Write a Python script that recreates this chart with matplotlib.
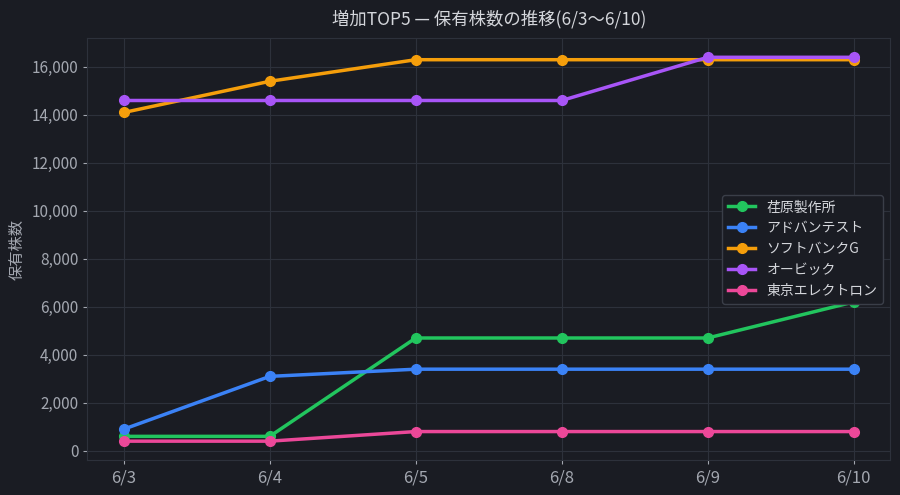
import matplotlib
matplotlib.use("Agg")
import matplotlib.pyplot as plt
from matplotlib.ticker import FuncFormatter

plt.rcParams['font.family'] = ['Noto Sans CJK JP', 'DejaVu Sans']

dates = ["6/3", "6/4", "6/5", "6/8", "6/9", "6/10"]
names = ["荏原製作所", "アドバンテスト", "ソフトバンクG", "オービック", "東京エレクトロン"]
ebara = [600, 600, 4700, 4700, 4700, 6200]
advantest = [900, 3100, 3400, 3400, 3400, 3400]
softbank = [14100, 15400, 16300, 16300, 16300, 16300]
obic = [14600, 14600, 14600, 14600, 16400, 16400]
tel = [400, 400, 800, 800, 800, 800]
series = [ebara, advantest, softbank, obic, tel]
colors = ["#22c55e", "#3b82f6", "#f59e0b", "#a855f7", "#ec4899"]

bg = "#1a1c23"
fg = "#a3a7b0"

fig, ax = plt.subplots(figsize=(9, 4.95), dpi=100)
fig.patch.set_facecolor(bg)
ax.set_facecolor(bg)

x = range(len(dates))
for name, vals, c in zip(names, series, colors):
    ax.plot(x, vals, color=c, linewidth=2.5, marker="o", markersize=7, label=name)

ax.set_xticks(list(x))
ax.set_xticklabels(dates)
ax.yaxis.set_major_formatter(FuncFormatter(lambda v, p: f"{int(v):,}"))
ax.grid(True, color="#2d313b", linewidth=0.8)
ax.set_axisbelow(True)
for s in ax.spines.values():
    s.set_color("#2d313b")
ax.tick_params(colors=fg, labelsize=11, length=3)
ax.tick_params(axis="x", labelsize=12)
ax.set_ylabel("保有株数", color=fg, fontsize=11)
ax.set_title("増加TOP5 — 保有株数の推移(6/3〜6/10)", color="#d4d6db", fontsize=12.5, pad=10)

leg = ax.legend(loc="center right", facecolor=bg, edgecolor="#3a3e48", fontsize=10,
                labelcolor="#d4d6db", framealpha=1)

plt.subplots_adjust(left=0.097, right=0.989, top=0.923, bottom=0.07)
plt.savefig("out.png", facecolor=bg)
